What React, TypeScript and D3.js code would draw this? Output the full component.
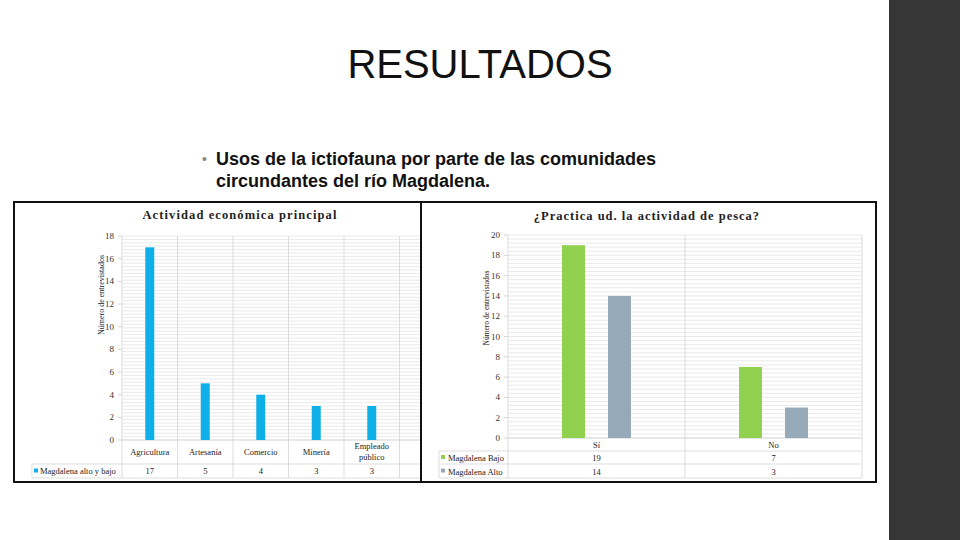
import React from "react";
import * as d3 from "d3";

const catsA = ["Agricultura", "Artesanía", "Comercio", "Minería", "Empleado público"];
const valsA = [17, 5, 4, 3, 3];
const seriesA = "Magdalena alto y bajo";
const ticksA = [0, 2, 4, 6, 8, 10, 12, 14, 16, 18];

const catsB = ["Sí", "No"];
const bajoB = [19, 7];
const altoB = [14, 3];
const seriesB = ["Magdalena Bajo", "Magdalena Alto"];
const ticksB = [0, 2, 4, 6, 8, 10, 12, 14, 16, 18, 20];

const serif = "'Liberation Serif', 'DejaVu Serif', serif";
const sans = "'Liberation Sans', Arial, sans-serif";
const gridC = "#e4e4e4";
const lineC = "#d4d4d4";

function ChartA() {
  const x = d3.scaleBand<string>().domain([...catsA, "_empty"]).range([122, 455]);
  const y = d3.scaleLinear().domain([0, 18]).range([440, 236]);
  const minor = d3.range(0, 18.001, 0.3);
  const bw = 9;
  return (
    <g>
      <defs>
        <clipPath id="clipA">
          <rect x={14} y={202} width={406} height={279} />
        </clipPath>
      </defs>
      <g clipPath="url(#clipA)">
        {minor.map((v, i) => (
          <line key={i} x1={122} x2={455} y1={y(v)} y2={y(v)} stroke={gridC} strokeWidth={0.8} />
        ))}
        {x.domain().map((c, i) => (
          <line key={"v" + i} x1={(x(c) as number) + x.bandwidth()} x2={(x(c) as number) + x.bandwidth()} y1={236} y2={478} stroke={lineC} strokeWidth={0.8} />
        ))}
        <line x1={122} x2={122} y1={236} y2={478} stroke={lineC} strokeWidth={0.8} />
        <line x1={122} x2={455} y1={440} y2={440} stroke={lineC} strokeWidth={0.8} />
        <line x1={32} x2={455} y1={464} y2={464} stroke={lineC} strokeWidth={0.8} />
        <line x1={32} x2={455} y1={478} y2={478} stroke={lineC} strokeWidth={0.8} />
        <line x1={32} x2={32} y1={464} y2={478} stroke={lineC} strokeWidth={0.8} />
        {catsA.map((c, i) => (
          <rect key={c} x={(x(c) as number) + x.bandwidth() / 2 - bw / 2} y={y(valsA[i])} width={bw} height={y(0) - y(valsA[i])} fill="#0fb0e8" />
        ))}
        {catsA.map((c, i) => {
          const cx = (x(c) as number) + x.bandwidth() / 2;
          const parts = c === "Empleado público" ? ["Empleado", "público"] : [c];
          return (
            <g key={"l" + c} fontFamily={serif} fontSize={8.5} fill="#222" textAnchor="middle">
              {parts.length === 1 ? (
                <text x={cx} y={455}>{c}</text>
              ) : (
                <>
                  <text x={cx} y={449}>{parts[0]}</text>
                  <text x={cx} y={460}>{parts[1]}</text>
                </>
              )}
              <text x={cx} y={474}>{valsA[i]}</text>
            </g>
          );
        })}
      </g>
      {ticksA.map((t) => (
        <g key={t}>
          <line x1={118} x2={122} y1={y(t)} y2={y(t)} stroke={lineC} />
          <text x={114} y={y(t) + 3} textAnchor="end" fontFamily={serif} fontSize={9} fill="#333">{t}</text>
        </g>
      ))}
      <rect x={34} y={468.5} width={4} height={4} fill="#0fb0e8" />
      <text x={40} y={474} fontFamily={serif} fontSize={8.5} fill="#222">{seriesA}</text>
      <text transform="translate(104,295) rotate(-90)" textAnchor="middle" fontFamily={serif} fontSize={8} fill="#222">Número de entrevistados</text>
      <text x={240} y={219} textAnchor="middle" fontFamily={serif} fontWeight="bold" fontSize={12.5} letterSpacing={1.1} fill="#222">Actividad económica principal</text>
      <rect x={14} y={202} width={407} height={280} fill="none" stroke="#111" strokeWidth={2} />
    </g>
  );
}

function ChartB() {
  const x = d3.scaleBand<string>().domain(catsB).range([508, 862]);
  const y = d3.scaleLinear().domain([0, 20]).range([438, 235]);
  const inner = d3.scaleBand<number>().domain([0, 1, 2]).range([-34.5, 34.5]);
  const minor = d3.range(0, 20.001, 0.4);
  const colors = ["#92d050", "#95a9b9"];
  const series = [bajoB, altoB];
  return (
    <g>
      {minor.map((v, i) => (
        <line key={i} x1={508} x2={862} y1={y(v)} y2={y(v)} stroke={gridC} strokeWidth={0.8} />
      ))}
      {[508, ...catsB.map((c) => (x(c) as number) + x.bandwidth())].map((xx, i) => (
        <line key={"v" + i} x1={xx} x2={xx} y1={235} y2={478} stroke={lineC} strokeWidth={0.8} />
      ))}
      <line x1={508} x2={862} y1={438} y2={438} stroke={lineC} strokeWidth={0.8} />
      {[451, 464, 478].map((yy) => (
        <line key={yy} x1={439} x2={862} y1={yy} y2={yy} stroke={lineC} strokeWidth={0.8} />
      ))}
      <line x1={439} x2={439} y1={451} y2={478} stroke={lineC} strokeWidth={0.8} />
      {catsB.map((c, ci) => {
        const cx = (x(c) as number) + x.bandwidth() / 2;
        return (
          <g key={c}>
            {series.map((s, si) => (
              <rect key={si} x={cx + (inner(si * 2) as number)} y={y(s[ci])} width={inner.bandwidth()} height={y(0) - y(s[ci])} fill={colors[si]} />
            ))}
            <g fontFamily={serif} fontSize={8.5} fill="#222" textAnchor="middle">
              <text x={cx} y={448}>{c}</text>
              <text x={cx} y={461}>{bajoB[ci]}</text>
              <text x={cx} y={475}>{altoB[ci]}</text>
            </g>
          </g>
        );
      })}
      {ticksB.map((t) => (
        <g key={t}>
          <line x1={504} x2={508} y1={y(t)} y2={y(t)} stroke={lineC} />
          <text x={500} y={y(t) + 3} textAnchor="end" fontFamily={serif} fontSize={9} fill="#333">{t}</text>
        </g>
      ))}
      {seriesB.map((s, i) => (
        <g key={s}>
          <rect x={441} y={455 + i * 13.5} width={4} height={4} fill={colors[i]} />
          <text x={448} y={461 + i * 13.5} fontFamily={serif} fontSize={8.5} fill="#222">{s}</text>
        </g>
      ))}
      <text transform="translate(489,308) rotate(-90)" textAnchor="middle" fontFamily={serif} fontSize={7.5} fill="#222">Número de entrevistados</text>
      <text x={647} y={220} textAnchor="middle" fontFamily={serif} fontWeight="bold" fontSize={12.5} letterSpacing={1.0} fill="#222">¿Practica ud. la actividad de pesca?</text>
      <rect x={421} y={202} width={455} height={280} fill="none" stroke="#111" strokeWidth={2} />
    </g>
  );
}

export default function App() {
  return (
    <svg width={960} height={540} style={{ position: "absolute", left: 0, top: 0, background: "#fff" }}>
      <rect x={0} y={0} width={960} height={540} fill="#fff" />
      <rect x={889} y={0} width={71} height={540} fill="#363636" />
      <text x={480} y={78} textAnchor="middle" fontFamily={sans} fontSize={40} fill="#111">RESULTADOS</text>
      <text x={202} y={164} fontFamily={sans} fontSize={14} fill="#888">•</text>
      <text x={216} y={165} fontFamily={sans} fontWeight="bold" fontSize={18} fill="#111">Usos de la ictiofauna por parte de las comunidades</text>
      <text x={216} y={187} fontFamily={sans} fontWeight="bold" fontSize={18} fill="#111">circundantes del río Magdalena.</text>
      <ChartA />
      <ChartB />
    </svg>
  );
}
